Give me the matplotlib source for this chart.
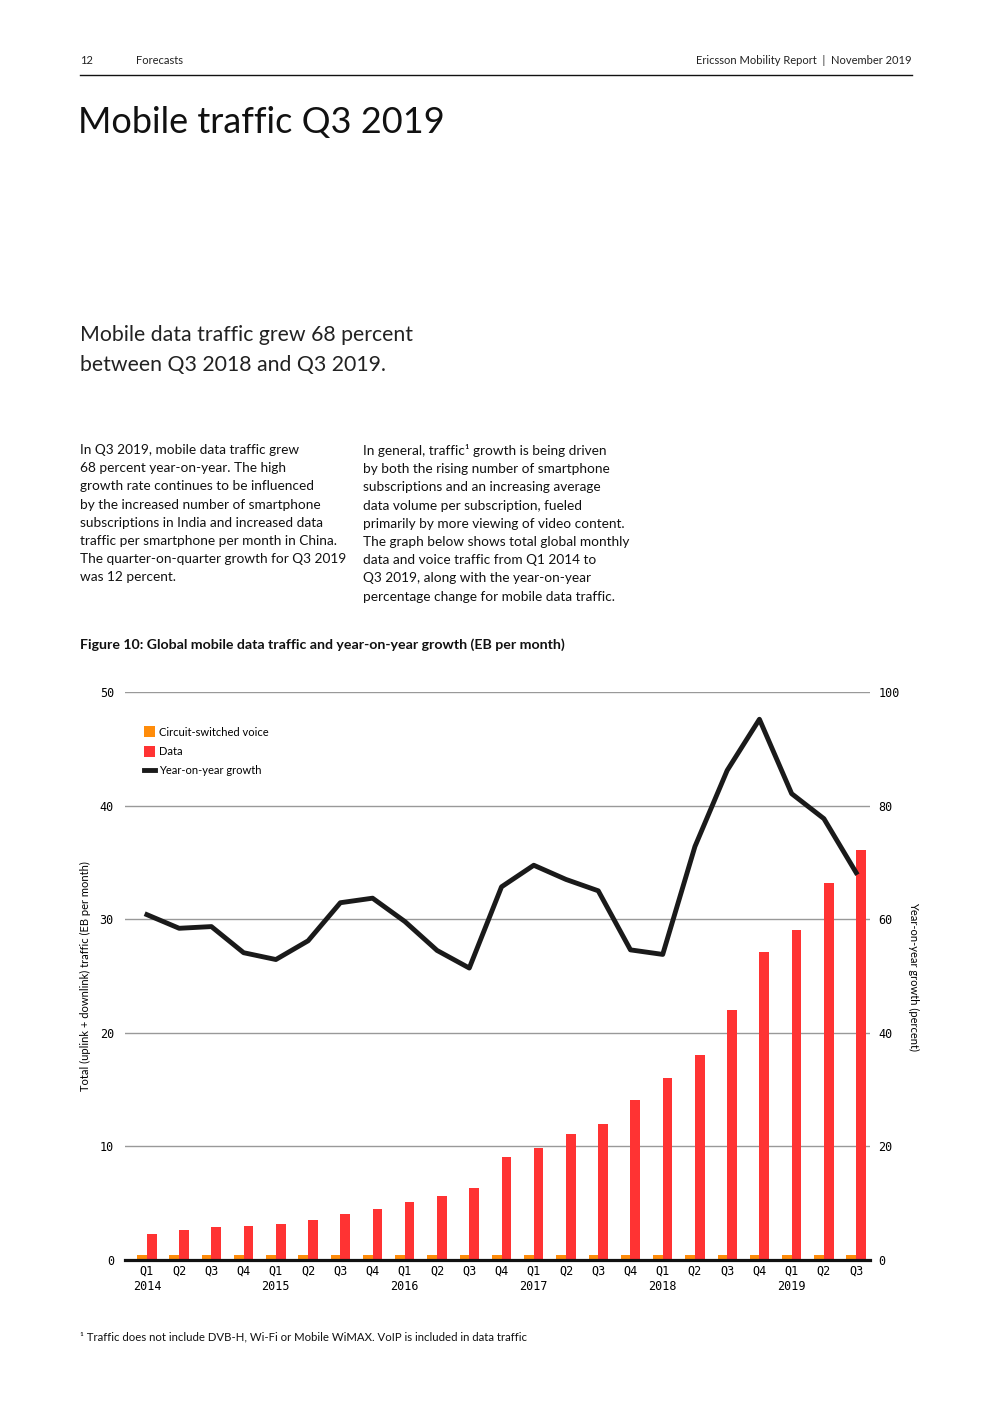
import numpy as np
import matplotlib.pyplot as plt

# Figure 10 data, Q1 2014 .. Q3 2019
quarters = ["Q1", "Q2", "Q3", "Q4"] * 5 + ["Q1", "Q2", "Q3"]
years = {0: "2014", 4: "2015", 8: "2016", 12: "2017", 16: "2018", 20: "2019"}
voice = [0.45] * 23
data = [2.3, 2.6, 2.9, 3.0, 3.2, 3.55, 4.05, 4.5, 5.1, 5.65, 6.35, 9.05,
        9.85, 11.05, 12.0, 14.05, 16.0, 18.05, 22.0, 27.1, 29.05, 33.2, 36.1]
growth = [60.8, 58.4, 58.7, 54.1, 52.9, 56.2, 62.9, 63.7, 59.6, 54.5, 51.4, 65.7,
          69.5, 67.0, 65.0, 54.6, 53.8, 72.8, 86.2, 95.2, 82.1, 77.7, 68.2]

W, H = 992, 1403
ORANGE = "#ff8c0a"
RED = "#ff3333"
LINE = "#1a1a1a"
FONT = "Lato"
MONO = "DejaVu Sans Mono"


def fx(px):
    return px / W


def fy(py):
    return 1 - py / H


fig = plt.figure(figsize=(W / 100, H / 100), dpi=100)

# header
fig.text(fx(80), fy(60), "12", family=FONT, fontsize=8, va="center", color="#222")
fig.text(fx(136), fy(60), "Forecasts", family=FONT, fontsize=8, va="center", color="#222")
fig.text(fx(912), fy(60), "Ericsson Mobility Report  |  November 2019", family=FONT,
         fontsize=8, va="center", ha="right", color="#222")
fig.add_artist(plt.Line2D([fx(80), fx(912)], [fy(75), fy(75)], color="#111", lw=1))

fig.text(fx(78), fy(123), "Mobile traffic Q3 2019", family=FONT,
         fontsize=26, va="center", color="#111")

fig.text(fx(80), fy(350), "Mobile data traffic grew 68 percent\nbetween Q3 2018 and Q3 2019.",
         family=FONT, fontsize=15.3, va="center", linespacing=1.6, color="#222")

left_col = ("In Q3 2019, mobile data traffic grew\n"
            "68 percent year-on-year. The high\n"
            "growth rate continues to be influenced\n"
            "by the increased number of smartphone\n"
            "subscriptions in India and increased data\n"
            "traffic per smartphone per month in China.\n"
            "The quarter-on-quarter growth for Q3 2019\n"
            "was 12 percent.")
right_col = ("In general, traffic\u00b9 growth is being driven\n"
             "by both the rising number of smartphone\n"
             "subscriptions and an increasing average\n"
             "data volume per subscription, fueled\n"
             "primarily by more viewing of video content.\n"
             "The graph below shows total global monthly\n"
             "data and voice traffic from Q1 2014 to\n"
             "Q3 2019, along with the year-on-year\n"
             "percentage change for mobile data traffic.")
fig.text(fx(80), fy(444), left_col, family=FONT, fontsize=9.8, va="top", linespacing=1.62, color="#111")
fig.text(fx(363), fy(444), right_col, family=FONT, fontsize=9.8, va="top", linespacing=1.62, color="#111")

fig.text(fx(80), fy(645), "Figure 10: Global mobile data traffic and year-on-year growth (EB per month)",
         family=FONT, fontweight="bold", fontsize=10.2, va="center", color="#111")

fig.text(fx(80), fy(1337), "\u00b9 Traffic does not include DVB-H, Wi-Fi or Mobile WiMAX. VoIP is included in data traffic",
         family=FONT, fontsize=8.2, va="center", color="#111")

# chart
ax = fig.add_axes([fx(125), fy(1260), fx(870) - fx(125), (1260 - 692) / H])
x = np.arange(len(data))
ax.bar(x - 0.15, voice, width=0.3, color=ORANGE, zorder=3, label="Circuit-switched voice")
ax.bar(x + 0.15, data, width=0.3, color=RED, zorder=3, label="Data")
ax.set_xlim(-0.68, 22.43)
ax.set_ylim(0, 50)
ax.set_yticks([0, 10, 20, 30, 40, 50])
ax.grid(axis="y", color="#999999", lw=1, zorder=0)
ax.axhline(0, color="#111", lw=2.3, zorder=4, clip_on=False)
for s in ax.spines.values():
    s.set_visible(False)
ax.tick_params(length=0, labelsize=8.5)
ax.tick_params(axis="y", pad=8)
ax.tick_params(axis="x", pad=3)
for lbl in ax.get_yticklabels():
    lbl.set_family(MONO)
ax.set_xticks(x)
ax.set_xticklabels([q + ("\n" + years[i] if i in years else "\n") for i, q in enumerate(quarters)],
                   family=MONO, fontsize=8.5, linespacing=1.25)
ax.set_ylabel("Total (uplink + downlink) traffic (EB per month)", family=FONT, fontsize=8, labelpad=6)

ax2 = ax.twinx()
ax2.plot(x, growth, color=LINE, lw=3.5, zorder=5, label="Year-on-year growth")
ax2.set_ylim(0, 100)
ax2.set_yticks([0, 20, 40, 60, 80, 100])
for s in ax2.spines.values():
    s.set_visible(False)
ax2.tick_params(length=0, labelsize=8.5, pad=6)
for lbl in ax2.get_yticklabels():
    lbl.set_family(MONO)
ax2.set_ylabel("Year-on-year growth (percent)", family=FONT, fontsize=8, rotation=-90, labelpad=14)

h1, l1 = ax.get_legend_handles_labels()
h2, l2 = ax2.get_legend_handles_labels()
leg = ax.legend(h1 + h2, l1 + l2, loc="upper left", bbox_to_anchor=(0.012, 0.957), frameon=False,
                prop={"family": FONT, "size": 8}, handlelength=1.0, handleheight=1.1,
                handletextpad=0.4, labelspacing=0.75)
leg.set_zorder(10)

fig.savefig("out.png", dpi=100)
